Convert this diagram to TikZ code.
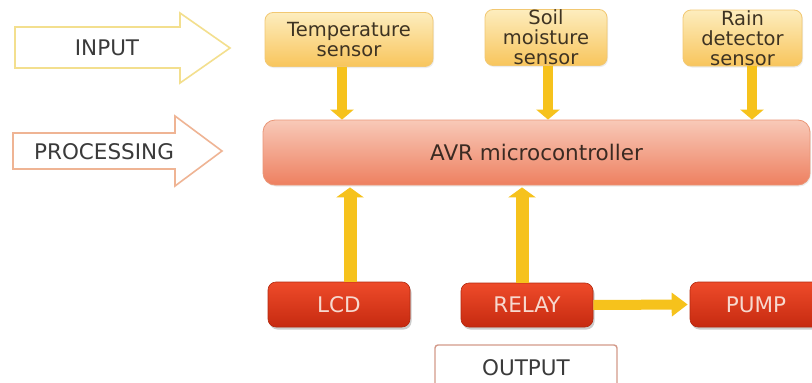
\documentclass[tikz,border=0pt]{standalone}
\usepackage{fontspec}
\setmainfont{DejaVu Sans}
\usetikzlibrary{arrows.meta,shadows}
\definecolor{sensorTop}{HTML}{FDEDBE}
\definecolor{sensorBot}{HTML}{F8C55C}
\definecolor{sensorEdge}{HTML}{F2C872}
\definecolor{sensorText}{HTML}{3E3322}
\definecolor{avrTop}{HTML}{F8C9B8}
\definecolor{avrBot}{HTML}{EE8060}
\definecolor{avrEdge}{HTML}{EA9677}
\definecolor{avrText}{HTML}{3A2A22}
\definecolor{redTop}{HTML}{EE4B2A}
\definecolor{redBot}{HTML}{C62A10}
\definecolor{redEdge}{HTML}{B3290F}
\definecolor{redText}{HTML}{F7D9CF}
\definecolor{arrowYellow}{HTML}{F6C21C}
\definecolor{inEdge}{HTML}{F3DF8E}
\definecolor{procEdge}{HTML}{EFB494}
\definecolor{outEdge}{HTML}{D39A8A}
\definecolor{labelText}{HTML}{3A3A3A}
\begin{document}
\begin{tikzpicture}[x=1pt,y=-1pt,
  lblfont/.style={font=\fontsize{21.5}{18.5}\selectfont},
  sensorfont/.style={font=\fontsize{19.5}{20}\selectfont},
  sensorbox/.style={sensorfont, draw=sensorEdge, line width=0.8pt, rounded corners=8pt,
    top color=sensorTop, bottom color=sensorBot, text=sensorText, align=center,
    inner sep=0pt, drop shadow={shadow xshift=1pt, shadow yshift=-1.5pt, opacity=0.15}},
  avrbox/.style={lblfont, draw=avrEdge, line width=0.8pt, rounded corners=12pt,
    top color=avrTop, bottom color=avrBot, text=avrText, inner sep=0pt,
    drop shadow={shadow xshift=1pt, shadow yshift=-1.5pt, opacity=0.15}},
  redbox/.style={lblfont, draw=redEdge, line width=0.6pt, rounded corners=8pt,
    top color=redTop, bottom color=redBot, text=redText, inner sep=0pt,
    drop shadow={shadow xshift=1.5pt, shadow yshift=-2.5pt, opacity=0.4}},
  outbox/.style={lblfont, draw=outEdge, line width=1.4pt, rounded corners=3pt,
    fill=white, text=labelText, inner sep=0pt},
  biglabel/.style={lblfont, text=labelText, inner sep=0pt},
  downarrow/.style={draw=arrowYellow, line width=10pt, -{Triangle[width=23pt,length=10pt]}},
  uparrow/.style={draw=arrowYellow, line width=13pt, -{Triangle[width=27pt,length=10pt]}},
  sidearrow/.style={draw=arrowYellow, line width=10pt, -{Triangle[width=23pt,length=16pt]}}
]
\fill[white] (0,0) rectangle (812,383);
\useasboundingbox (0,0) rectangle (812,383);

% big input / processing arrows
\draw[draw=inEdge, line width=1.6pt, fill=white]
  (15,27) -- (180,27) -- (180,13) -- (230,48) -- (180,83) -- (180,68) -- (15,68) -- cycle;
\node[biglabel] (inlbl) at (107,48) {INPUT};
\draw[draw=procEdge, line width=1.6pt, fill=white]
  (13,133) -- (175,133) -- (175,116) -- (222,151) -- (175,186) -- (175,169) -- (13,169) -- cycle;
\node[biglabel] (proclbl) at (104,152) {PROCESSING};

% sensors
\node[sensorbox, minimum width=168pt, minimum height=54pt] (temp) at (349,39.5) {Temperature\\sensor};
\node[sensorbox, minimum width=122pt, minimum height=56pt] (soil) at (546,37.5) {Soil\\moisture\\sensor};
\node[sensorbox, minimum width=119pt, minimum height=56pt] (rain) at (742.5,38) {Rain\\detector\\sensor};

% microcontroller
\node[avrbox, minimum width=547pt, minimum height=65pt] (avr) at (536.5,152.5) {AVR microcontroller};

% outputs
\node[redbox, minimum width=142pt, minimum height=45pt] (lcd) at (339,304.5) {LCD};
\node[redbox, minimum width=132pt, minimum height=44pt] (relay) at (527,305) {RELAY};
\node[redbox, minimum width=132pt, minimum height=45pt, text width=132pt, align=center] (pump) at (756,304.5) {PUMP};
\node[outbox, minimum width=182pt, minimum height=46pt] (output) at (526,368) {OUTPUT};

% connectors
\draw[downarrow] ([xshift=-7pt]temp.south) -- ([xshift=-7pt]temp.south |- avr.north);
\draw[downarrow] ([xshift=2pt]soil.south) -- ([xshift=2pt]soil.south |- avr.north);
\draw[downarrow] ([xshift=9.5pt]rain.south) -- ([xshift=9.5pt]rain.south |- avr.north);
\draw[uparrow] ([xshift=11pt]lcd.north) -- ([xshift=11pt,yshift=-2pt]lcd.north |- avr.south);
\draw[uparrow] ([xshift=-5pt]relay.north) -- ([xshift=-5pt,yshift=-2pt]relay.north |- avr.south);
\draw[sidearrow] (relay.east) -- ([xshift=-2pt]pump.west);
\end{tikzpicture}
\end{document}
